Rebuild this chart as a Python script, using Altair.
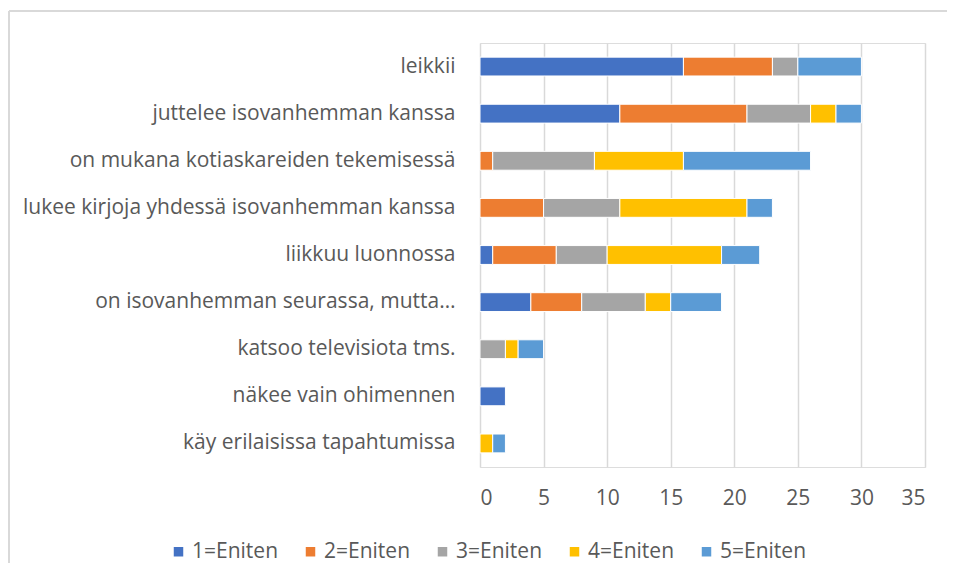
import altair as alt
import pandas as pd

categories = [
    "leikkii",
    "juttelee isovanhemman kanssa",
    "on mukana kotiaskareiden tekemisessä",
    "lukee kirjoja yhdessä isovanhemman kanssa",
    "liikkuu luonnossa",
    "on isovanhemman seurassa, mutta…",
    "katsoo televisiota tms.",
    "näkee vain ohimennen",
    "käy erilaisissa tapahtumissa",
]
series = ["1=Eniten", "2=Eniten", "3=Eniten", "4=Eniten", "5=Eniten"]
s1 = [16, 11, 0, 0, 1, 4, 0, 2, 0]
s2 = [7, 10, 1, 5, 5, 4, 0, 0, 0]
s3 = [2, 5, 8, 6, 4, 5, 2, 0, 0]
s4 = [0, 2, 7, 10, 9, 2, 1, 0, 1]
s5 = [5, 2, 10, 2, 3, 4, 2, 0, 1]
colors = ["#4472C4", "#ED7D31", "#A5A5A5", "#FFC000", "#5B9BD5"]
x_ticks = [0, 5, 10, 15, 20, 25, 30, 35]

rows = []
for si, (name, vals) in enumerate(zip(series, [s1, s2, s3, s4, s5])):
    for cat, v in zip(categories, vals):
        if v > 0:
            rows.append({"kategoria": cat, "sarja": name, "ord": si, "arvo": v})
df = pd.DataFrame(rows)

FONT = "Open Sans"
TXT = "#595959"
GRID = "#D9D9D9"

bars = alt.Chart(df).mark_bar(stroke="white", strokeWidth=1).encode(
    x=alt.X("arvo:Q", stack="zero",
            scale=alt.Scale(domain=[0, 35], nice=False),
            axis=alt.Axis(values=x_ticks, title=None, grid=True, gridColor=GRID,
                          gridWidth=1.5, domain=False, ticks=False,
                          labelPadding=20, labelFont=FONT, labelFontSize=21,
                          labelColor=TXT)),
    y=alt.Y("kategoria:N", sort=categories,
            scale=alt.Scale(paddingInner=0.6, paddingOuter=0.3),
            axis=alt.Axis(title=None, domain=False, ticks=False, grid=False,
                          labelPadding=25, labelFont=FONT, labelFontSize=21,
                          labelColor=TXT, labelLimit=500)),
    color=alt.Color("sarja:N", scale=alt.Scale(domain=series, range=colors),
                    legend=alt.Legend(title=None, orient="none", legendX=-312,
                                      legendY=498, direction="horizontal",
                                      columns=5, columnPadding=21,
                                      symbolType="square", symbolSize=90,
                                      symbolStrokeWidth=0, labelOffset=3,
                                      labelFont=FONT, labelFontSize=21,
                                      labelColor=TXT, padding=0)),
    order=alt.Order("ord:Q", sort="ascending"),
)

one = pd.DataFrame({"k": [0]})
frame_top = alt.Chart(one).mark_rule(color=GRID, strokeWidth=2).encode(
    x=alt.value(-471), x2=alt.value(470), y=alt.value(-32))
frame_left = alt.Chart(one).mark_rule(color=GRID, strokeWidth=2).encode(
    x=alt.value(-471), y=alt.value(-32), y2=alt.value(560))

chart = alt.layer(frame_top, frame_left, bars).properties(
    width=445, height=424,
    autosize=alt.AutoSizeParams(type="none"),
    padding={"left": 472, "top": 35, "right": 22, "bottom": 96},
).configure_view(stroke=None).configure(background="white")

chart.save("out.html", embed_options={"renderer": "svg", "actions": False})
